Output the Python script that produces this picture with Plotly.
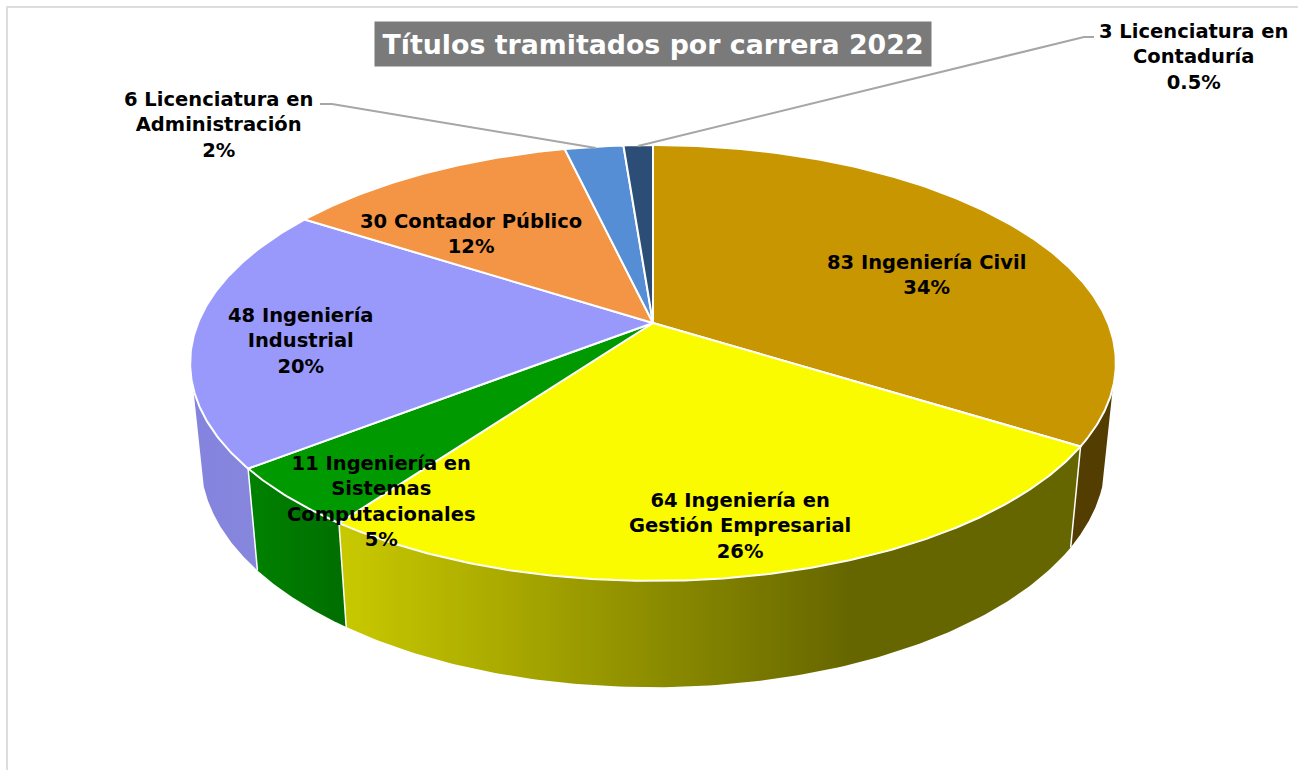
import numpy as np
import plotly.graph_objects as go

# ---- data ----
categories = ["Ingeniería Civil", "Ingeniería en<br>Gestión Empresarial",
              "Ingeniería en<br>Sistemas<br>Computacionales", "Ingeniería<br>Industrial",
              "Contador Público", "Licenciatura en<br>Administración",
              "Licenciatura en<br>Contaduría"]
values = [83, 64, 11, 48, 30, 6, 3]
percent_labels = ["34%", "26%", "5%", "20%", "12%", "2%", "0.5%"]
top_colors = ["#C89600", "#FBFB00", "#009900", "#9999FB", "#F39544", "#558ED5", "#2C4D75"]
title_text = "Títulos tramitados por carrera 2022"

FONT = "DejaVu Sans"

# ---- perspective pie geometry (pixel-like axes) ----
CX, CY = 653, 323
A, B, K = 210.6, 455.0, 0.1834


def top_xy(theta):
    s = 1 / (1 + K * np.cos(theta))
    return CX + B * np.sin(theta) * s, CY - A * np.cos(theta) * s


def bottom_xy(theta):
    s = 1 / (1 + K * np.cos(theta))
    return CX + 0.977 * B * np.sin(theta) * s, CY + 96 - 1.04 * A * np.cos(theta) * s


fractions = np.array(values) / sum(values)
edges = np.concatenate([[0], np.cumsum(fractions)]) * 2 * np.pi

fig = go.Figure()

# side wall: (slice index, visible angle limits, horizontal gradient)
SIDE_START, SIDE_END = np.radians(107), np.radians(253)
side_styles = {
    0: dict(start=1060, stop=1120, stops=[[0, "#533D00"], [1, "#533D00"]]),
    1: dict(start=346, stop=1080, stops=[[0, "#C8C800"], [0.687, "#666600"], [1, "#666600"]]),
    2: dict(start=257, stop=346, stops=[[0, "#008000"], [1, "#006E00"]]),
    3: dict(start=190, stop=260, stops=[[0, "#8484E0"], [1, "#8686DC"]]),
}
for i, st in side_styles.items():
    lo, hi = max(edges[i], SIDE_START), min(edges[i + 1], SIDE_END)
    ts = np.linspace(lo, hi, 120)
    x1, y1 = top_xy(ts)
    x2, y2 = bottom_xy(ts[::-1])
    fig.add_trace(go.Scatter(
        x=np.r_[x1, x2, x1[0]], y=np.r_[y1, y2, y1[0]], mode="lines", fill="toself",
        fillgradient=dict(type="horizontal", start=st["start"], stop=st["stop"],
                          colorscale=st["stops"]),
        line=dict(color="rgba(255,255,255,0)", width=0), hoverinfo="skip"))

# white edges between side panels
for th in edges[1:4]:
    x1, y1 = top_xy(th); x2, y2 = bottom_xy(th)
    fig.add_trace(go.Scatter(x=[x1, x2], y=[y1, y2], mode="lines",
                             line=dict(color="white", width=1.5), hoverinfo="skip"))

# top face slices
for i, col in enumerate(top_colors):
    ts = np.linspace(edges[i], edges[i + 1], max(3, int((edges[i + 1] - edges[i]) / np.radians(0.5))))
    xs, ys = top_xy(ts)
    fig.add_trace(go.Scatter(x=np.r_[CX, xs, CX], y=np.r_[CY, ys, CY], mode="lines",
                             fill="toself", fillcolor=col,
                             line=dict(color="white", width=2), hoverinfo="skip",
                             name=categories[i].replace("<br>", " ")))

# leader lines
fig.add_trace(go.Scatter(x=[320, 332, 596], y=[104, 104, 148], mode="lines",
                         line=dict(color="#A6A6A6", width=2), hoverinfo="skip"))
fig.add_trace(go.Scatter(x=[1094, 1084, 638], y=[37, 37, 146], mode="lines",
                         line=dict(color="#A6A6A6", width=2), hoverinfo="skip"))

# labels
label_pos = [(926, 275), (740, 526), (381, 501), (301, 341), (471, 234), (218, 125), (1193, 57)]
for v, cat, pct, (lx, ly) in zip(values, categories, percent_labels, label_pos):
    fig.add_annotation(x=lx, y=ly, text=f"<b>{v} {cat}<br>{pct}</b>", showarrow=False,
                       font=dict(family=FONT, size=19.5, color="black"), align="center")

fig.add_annotation(x=653, y=44, text=f"<b>{title_text}</b>", showarrow=False,
                   font=dict(family=FONT, size=26.8, color="white"),
                   bgcolor="#7A7A7A", width=554, height=42, align="center")

fig.update_layout(
    width=1299, height=770, margin=dict(l=0, r=0, t=0, b=0),
    paper_bgcolor="white", plot_bgcolor="white", showlegend=False,
    xaxis=dict(range=[0, 1299], visible=False, fixedrange=True),
    yaxis=dict(range=[770, 0], visible=False, fixedrange=True),
    shapes=[dict(type="path", path="M 7 770 L 7 7 L 1298 7", xref="x", yref="y",
                 line=dict(color="#DDDDDD", width=2))],
)

fig.write_html("out.html", config={"displayModeBar": False},
               post_script="document.body.style.margin='0';document.body.style.overflow='hidden';")
